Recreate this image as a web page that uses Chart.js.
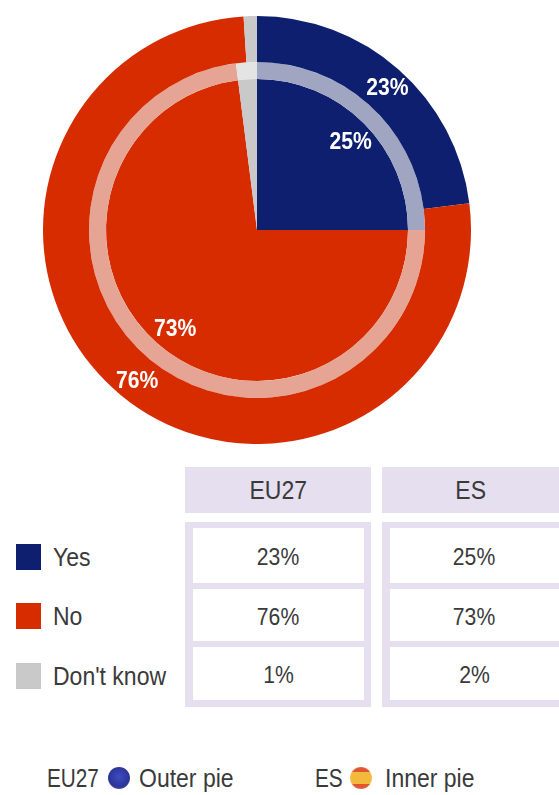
<!DOCTYPE html>
<html>
<head>
<meta charset="utf-8">
<style>
  html, body { margin: 0; padding: 0; background: #fff; }
  body { position: relative; width: 559px; height: 795px; overflow: hidden;
         font-family: "Liberation Sans", Arial, sans-serif; color: #3a3a3a; }
  #pie { position: absolute; left: 43px; top: 16px; }
  .abs { position: absolute; }
  .head { background: #e6dff0; text-align: center; font-size: 25px; line-height: 46px; height: 46px; top: 467px; }
  .frame { background: #e6dff0; top: 522px; height: 185px; }
  .cell { position: absolute; left: 8px; right: 7px; background: #fff; text-align: center; font-size: 23px; }
  .swatch { width: 25px; height: 26px; left: 16px; }
  .name { left: 53px; font-size: 25px; line-height: 26px; }
  .foot { top: 765px; font-size: 25px; line-height: 26px; white-space: nowrap; }
  .badge { top: 767px; width: 22px; height: 22px; border-radius: 50%; }
  /* all the lettering is a little condensed */
  .narrow { display: inline-block; transform: scaleX(0.92); }
  .name .narrow, .foot .narrow { transform-origin: left center; }
  .short .narrow { transform: scaleX(0.83); }
</style>
</head>
<body>
<canvas id="pie" width="428" height="428"></canvas>
<div id="table"></div>
<script src="https://cdn.jsdelivr.net/npm/chart.js@4"></script>
<script>
// answer categories and the two series
const categories = ['Yes', 'No', "Don't know"];
const eu27Values = [23, 76, 1];
const esValues = [25, 73, 2];
const columnNames = ['EU27', 'ES'];

const sliceColors = ['#0d1f6e', '#d62c00', '#c9c9c9'];
const ringColors = ['#a0a5c1', '#e6a594', '#e4e4e4'];

// white percent labels, placed along the middle of each slice
const sliceLabels = {
    id: 'sliceLabels',
    afterDatasetsDraw(chart) {
        const c = chart.ctx;
        c.save();
        c.fillStyle = '#fff';
        c.font = 'bold 23px "Liberation Sans", Arial, sans-serif';
        c.textAlign = 'center';
        c.textBaseline = 'middle';
        chart.data.datasets.forEach((ds, i) => {
            if (!ds.labelRadius) return;
            chart.getDatasetMeta(i).data.forEach((arc, j) => {
                if (ds.data[j] < 5) return; // the small slices have no label
                const mid = (arc.startAngle + arc.endAngle) / 2;
                const r = arc.outerRadius * ds.labelRadius;
                c.save();
                // text sits slightly right of and below the slice midline
                c.translate(arc.x + Math.cos(mid) * r + 3, arc.y + Math.sin(mid) * r + 3);
                c.scale(0.92, 1);
                c.fillText(ds.data[j] + '%', 0, 0);
                c.restore();
            });
        });
        c.restore();
    }
};

// outer band, pale ring and inner pie are three stacked datasets
new Chart(document.getElementById('pie').getContext('2d'), {
    type: 'doughnut',
    data: {
        labels: categories,
        datasets: [
            { data: eu27Values, backgroundColor: sliceColors, weight: 46, labelRadius: 0.9 },
            { data: esValues, backgroundColor: ringColors, weight: 17 },
            { data: esValues, backgroundColor: sliceColors, weight: 151, labelRadius: 0.85 }
        ]
    },
    options: {
        responsive: false,
        animation: false,
        cutout: 0,
        borderWidth: 0,
        plugins: { legend: { display: false }, tooltip: { enabled: false } }
    },
    plugins: [sliceLabels]
});

// table under the pie
const table = document.getElementById('table');
function add(cls, css, text, parent) {
    const el = document.createElement('div');
    el.className = cls;
    el.style.cssText = css;
    if (text) {
        const span = document.createElement('span');
        span.className = 'narrow';
        span.textContent = text;
        el.appendChild(span);
    }
    (parent || table).appendChild(el);
    return el;
}

const columnX = [185, 382];
const columnW = [186, 177];
const rowTop = [6, 67, 125];
const rowH = [55, 52, 53];
const swatchTop = [544, 603, 663];

[eu27Values, esValues].forEach((values, col) => {
    const geom = 'left:' + columnX[col] + 'px;width:' + columnW[col] + 'px;';
    add('abs head', geom, columnNames[col]);
    const frame = add('abs frame', geom);
    values.forEach((v, row) => {
        add('cell', 'top:' + rowTop[row] + 'px;height:' + rowH[row] + 'px;line-height:' + (rowH[row] + 4) + 'px;' +
            (col === 1 ? 'right:0;' : ''), v + '%', frame);
    });
});

categories.forEach((name, row) => {
    add('abs swatch', 'top:' + swatchTop[row] + 'px;background:' + sliceColors[row]);
    add('abs name', 'top:' + swatchTop[row] + 'px', name);
});

// key for which ring is which
add('abs foot short', 'left:47px', 'EU27');
add('abs badge', 'left:108px;background:radial-gradient(circle at 50% 45%,#3f4bc4 0%,#2b3596 62%,#9a9ec8 100%)');
add('abs foot', 'left:139px', 'Outer pie');
add('abs foot short', 'left:315px', 'ES');
add('abs badge', 'left:350px;background:radial-gradient(circle,transparent 60%,rgba(255,240,200,.6) 100%),linear-gradient(#e0552e 0 24%,#f2b93c 24% 76%,#e0552e 76%)');
add('abs foot', 'left:385px', 'Inner pie');
</script>
</body>
</html>
